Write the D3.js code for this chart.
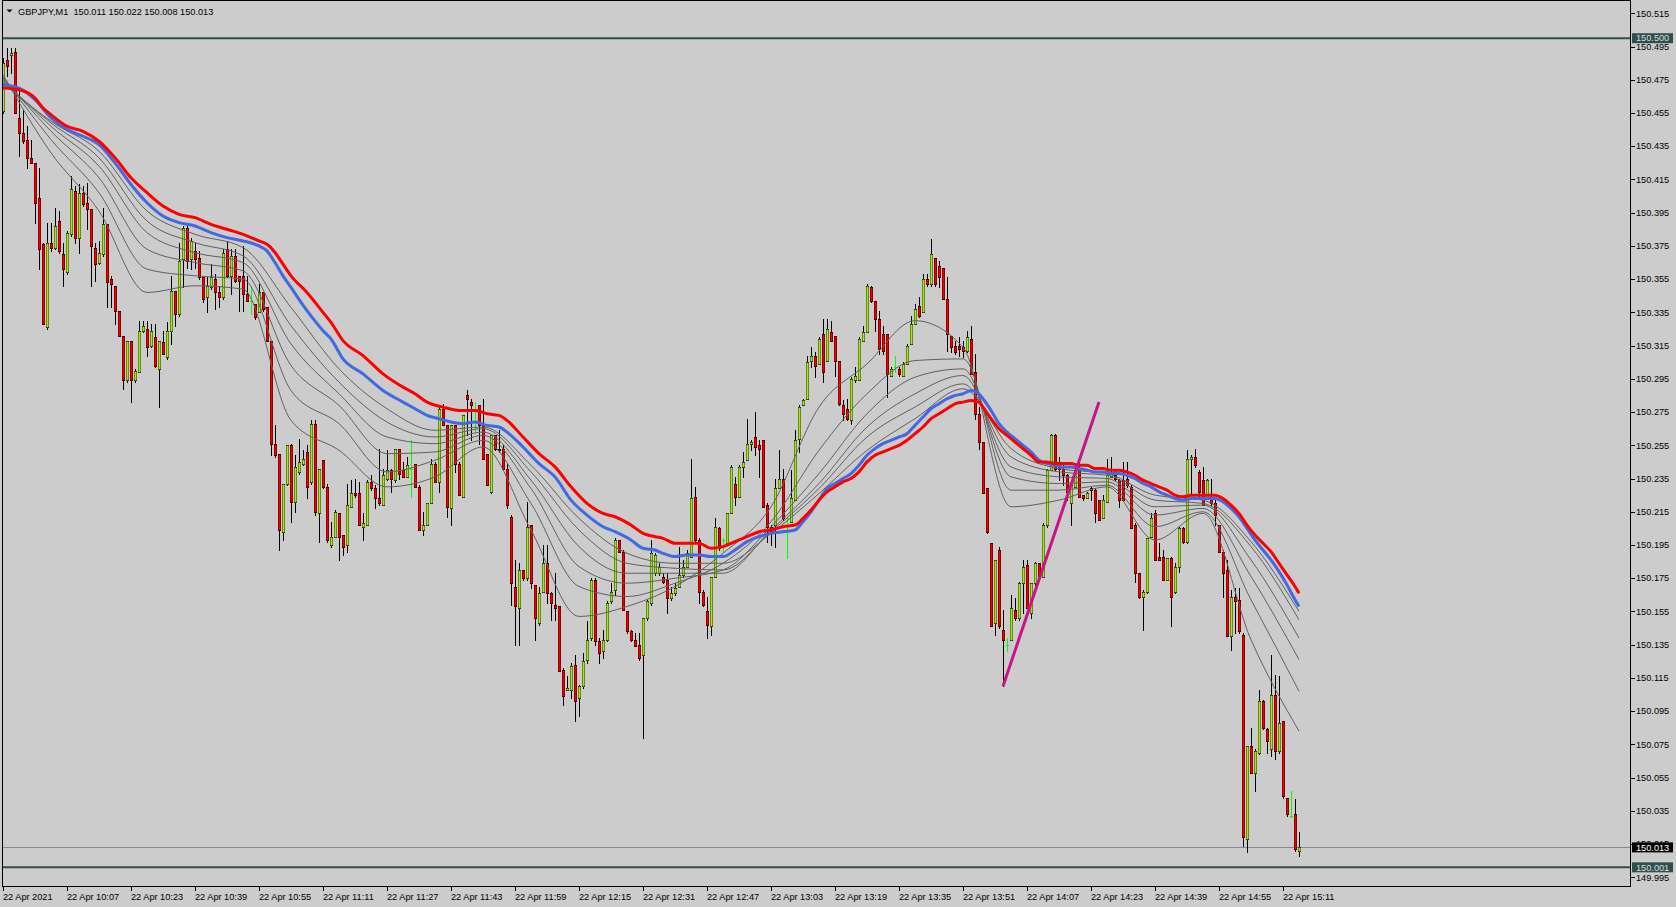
<!DOCTYPE html>
<html><head><meta charset="utf-8">
<script src="https://cdn.jsdelivr.net/npm/d3@7"></script>
<style>
html,body{margin:0;padding:0;background:#cccccc;overflow:hidden;}
svg{display:block;font-family:"Liberation Sans",Arial,sans-serif;}
</style></head><body>
<svg id="c" width="1676" height="907"></svg>
<script>
// ---------------- DATA ----------------
const symbol = "GBPJPY,M1";
const lastQuote = [150.011, 150.022, 150.008, 150.013];
const startTime = new Date(2021, 3, 22, 9, 51);

const open = [150.456,150.487,150.490,150.492,150.452,150.443,150.439,150.428,150.425,150.404,
150.376,150.326,150.377,150.374,150.390,150.370,150.359,150.382,150.408,150.380,
150.407,150.401,150.397,150.374,150.365,150.370,150.388,150.355,150.351,150.336,
150.321,150.294,150.318,150.294,150.299,150.324,150.325,150.315,150.320,150.301,
150.317,150.308,150.324,150.348,150.334,150.367,150.386,150.367,150.372,150.368,
150.356,150.344,150.350,150.355,150.347,150.344,150.373,150.357,150.369,150.357,
150.357,150.346,150.342,150.340,150.335,150.347,150.338,150.318,150.256,150.250,
150.203,150.232,150.255,150.221,150.239,150.244,150.251,150.233,150.268,150.214,
150.246,150.230,150.195,150.200,150.214,150.201,150.195,150.218,150.226,150.226,
150.206,150.207,150.233,150.229,150.223,150.219,150.235,150.240,150.234,150.253,
150.240,150.236,150.241,150.244,150.230,150.204,150.207,150.220,150.244,150.233,
150.277,150.267,150.217,150.267,150.244,150.224,150.285,150.281,150.277,150.279,
150.267,150.250,150.227,150.261,150.253,150.253,150.241,150.212,150.170,150.157,
150.180,150.175,150.207,150.171,150.148,150.167,150.184,150.166,150.159,150.158,
150.120,150.108,150.108,150.123,150.103,150.110,150.126,150.139,150.174,150.137,
150.131,150.138,150.161,150.168,150.198,150.191,150.155,150.143,150.138,150.135,
150.129,150.151,150.160,150.178,150.178,150.176,150.174,150.163,150.166,150.170,
150.177,150.182,150.188,150.224,150.198,150.167,150.155,150.146,150.176,150.205,
150.198,150.196,150.214,150.232,150.224,150.242,150.246,150.256,150.260,150.255,
150.258,150.219,150.206,150.207,150.229,150.235,150.211,150.209,150.222,150.259,
150.279,150.283,150.306,150.309,150.304,150.322,150.306,150.323,150.321,150.306,
150.279,150.277,150.270,150.294,150.294,150.318,150.323,150.350,150.342,150.331,
150.322,150.322,150.297,150.302,150.301,150.297,150.304,150.316,150.328,150.339,
150.335,150.355,150.352,150.368,150.363,150.362,150.343,150.321,150.315,150.315,
150.314,150.312,150.319,150.299,150.274,150.257,150.229,150.196,150.148,150.192,
150.144,150.135,150.138,150.156,150.151,150.172,150.183,150.154,150.172,150.184,
150.176,150.207,150.240,150.261,150.243,150.241,150.237,150.220,150.230,150.241,
150.225,150.223,150.229,150.228,150.222,150.211,150.221,150.236,150.237,150.234,
150.234,150.235,150.230,150.207,150.178,150.164,150.167,150.200,150.214,150.188,
150.188,150.174,150.187,150.167,150.182,150.205,150.197,150.247,150.248,150.239,
150.234,150.224,150.224,150.220,150.207,150.191,150.180,150.140,150.164,150.162,
150.141,150.018,150.074,150.058,150.070,150.101,150.084,150.072,150.105,150.071,
150.089,150.043,150.032,150.033,150.011];

const high = [150.488,150.494,150.494,150.494,150.468,150.457,150.447,150.439,150.425,150.422,
150.377,150.389,150.389,150.398,150.396,150.377,150.384,150.417,150.411,150.412,
150.411,150.413,150.397,150.377,150.378,150.398,150.388,150.357,150.351,150.336,
150.321,150.318,150.318,150.301,150.330,150.330,150.330,150.328,150.328,150.318,
150.324,150.329,150.357,150.348,150.377,150.387,150.387,150.380,150.377,150.372,
150.356,150.356,150.364,150.358,150.351,150.373,150.378,150.373,150.373,150.357,
150.375,150.357,150.350,150.340,150.352,150.347,150.338,150.318,150.267,150.250,
150.232,150.255,150.256,150.249,150.259,150.252,150.255,150.270,150.270,150.241,
150.246,150.232,150.209,150.216,150.214,150.201,150.232,150.234,150.235,150.233,
150.214,150.234,150.237,150.231,150.253,150.241,150.252,150.241,150.253,150.253,
150.245,150.248,150.258,150.244,150.231,150.215,150.220,150.247,150.245,150.278,
150.280,150.267,150.267,150.267,150.245,150.273,150.288,150.283,150.281,150.279,
150.283,150.250,150.261,150.261,150.264,150.255,150.244,150.213,150.186,150.184,
150.180,150.221,150.207,150.171,150.170,150.195,150.195,150.167,150.178,150.158,
150.121,150.116,150.124,150.129,150.111,150.130,150.149,150.175,150.175,150.139,
150.144,150.161,150.172,150.199,150.198,150.192,150.155,150.144,150.142,150.142,
150.151,150.162,150.198,150.190,150.184,150.178,150.178,150.170,150.172,150.194,
150.186,150.192,150.247,150.230,150.199,150.168,150.164,150.176,150.211,150.206,
150.199,150.214,150.243,150.236,150.243,150.251,150.271,150.258,150.275,150.258,
150.258,150.220,150.207,150.235,150.252,150.241,150.212,150.240,150.264,150.279,
150.283,150.309,150.314,150.311,150.320,150.331,150.331,150.330,150.321,150.306,
150.282,150.283,150.296,150.302,150.320,150.327,150.352,150.351,150.342,150.336,
150.327,150.322,150.302,150.309,150.302,150.305,150.316,150.333,150.340,150.344,
150.358,150.358,150.379,150.368,150.366,150.362,150.356,150.321,150.318,150.320,
150.318,150.324,150.327,150.310,150.278,150.257,150.229,150.196,150.186,150.194,
150.156,150.139,150.165,150.163,150.173,150.186,150.186,150.172,150.185,150.184,
150.208,150.241,150.262,150.262,150.248,150.243,150.238,150.233,150.242,150.247,
150.225,150.227,150.230,150.229,150.222,150.225,150.247,150.248,150.240,150.235,
150.245,150.245,150.231,150.208,150.178,150.168,150.199,150.214,150.216,150.196,
150.192,150.187,150.188,150.184,150.206,150.206,150.252,150.249,150.253,150.240,
150.242,150.235,150.235,150.222,150.207,150.192,150.186,150.168,150.169,150.169,
150.142,150.074,150.085,150.072,150.108,150.102,150.085,150.129,150.117,150.116,
150.089,150.043,150.047,150.042,150.022];

const low = [150.455,150.477,150.479,150.455,150.429,150.437,150.422,150.425,150.389,150.361,
150.328,150.325,150.372,150.373,150.371,150.351,150.358,150.381,150.377,150.371,
150.399,150.385,150.351,150.354,150.364,150.369,150.338,150.338,150.328,150.321,
150.289,150.293,150.281,150.293,150.299,150.323,150.309,150.314,150.302,150.278,
150.310,150.307,150.316,150.327,150.333,150.350,150.362,150.361,150.362,150.355,
150.341,150.335,150.349,150.337,150.338,150.343,150.356,150.346,150.353,150.336,
150.336,150.342,150.334,150.331,150.335,150.336,150.318,150.249,150.248,150.192,
150.198,150.231,150.209,150.215,150.238,150.243,150.223,150.232,150.213,150.197,
150.229,150.197,150.194,150.200,150.186,150.189,150.191,150.218,150.224,150.207,
150.198,150.207,150.228,150.217,150.219,150.219,150.234,150.227,150.233,150.235,
150.236,150.236,150.224,150.230,150.204,150.201,150.207,150.220,150.233,150.227,
150.267,150.212,150.207,150.239,150.225,150.224,150.261,150.258,150.263,150.256,
150.247,150.231,150.226,150.252,150.251,150.241,150.217,150.159,150.135,150.135,
150.174,150.174,150.169,150.138,150.147,150.167,150.160,150.150,150.150,150.119,
150.099,150.108,150.103,150.089,150.092,150.109,150.124,150.138,150.135,150.124,
150.127,150.137,150.160,150.165,150.191,150.156,150.142,150.137,150.134,150.126,
150.079,150.150,150.159,150.177,150.177,150.172,150.154,150.162,150.165,150.170,
150.176,150.182,150.188,150.197,150.160,150.158,150.139,150.141,150.176,150.192,
150.191,150.196,150.214,150.219,150.224,150.236,150.246,150.252,150.249,150.236,
150.218,150.197,150.195,150.194,150.229,150.210,150.187,150.209,150.222,150.251,
150.279,150.283,150.302,150.296,150.304,150.293,150.306,150.318,150.297,150.279,
150.270,150.270,150.268,150.293,150.294,150.318,150.323,150.341,150.324,150.310,
150.310,150.284,150.297,150.299,150.297,150.297,150.304,150.316,150.328,150.332,
150.335,150.351,150.351,150.351,150.350,150.343,150.312,150.311,150.310,150.309,
150.308,150.311,150.298,150.271,150.253,150.226,150.202,150.146,150.141,150.145,
150.110,150.131,150.138,150.150,150.150,150.154,150.157,150.151,150.171,150.175,
150.176,150.206,150.240,150.240,150.234,150.231,150.222,150.207,150.230,150.224,
150.222,150.223,150.222,150.209,150.210,150.211,150.221,150.236,150.234,150.218,
150.222,150.230,150.205,150.173,150.163,150.144,150.166,150.200,150.186,150.186,
150.174,150.174,150.146,150.166,150.179,150.196,150.196,150.225,150.242,150.224,
150.219,150.224,150.219,150.207,150.191,150.164,150.140,150.132,150.142,150.142,
150.014,150.010,150.058,150.047,150.069,150.084,150.070,150.068,150.066,150.070,
150.043,150.032,150.031,150.011,150.008];

const close = [150.485,150.483,150.491,150.455,150.443,150.438,150.428,150.425,150.401,150.373,
150.328,150.377,150.374,150.387,150.372,150.361,150.383,150.409,150.380,150.407,
150.400,150.397,150.375,150.364,150.371,150.388,150.353,150.352,150.336,150.321,
150.294,150.318,150.294,150.300,150.324,150.327,150.314,150.324,150.303,150.318,
150.310,150.324,150.348,150.334,150.366,150.386,150.366,150.378,150.367,150.356,
150.343,150.351,150.356,150.347,150.344,150.371,150.357,150.369,150.354,150.354,
150.346,150.342,150.342,150.332,150.347,150.337,150.318,150.256,150.249,150.204,
150.232,150.255,150.221,150.242,150.245,150.247,150.230,150.268,150.215,150.241,
150.230,150.198,150.200,150.215,150.200,150.194,150.219,150.226,150.225,150.207,
150.208,150.233,150.229,150.223,150.220,150.237,150.240,150.235,150.253,150.238,
150.236,150.243,150.241,150.230,150.204,150.207,150.220,150.244,150.233,150.277,
150.267,150.218,150.267,150.244,150.225,150.273,150.283,150.279,150.277,150.267,
150.247,150.231,150.261,150.253,150.252,150.241,150.219,150.172,150.158,150.180,
150.175,150.206,150.172,150.151,150.166,150.184,150.166,150.160,150.157,150.119,
150.104,150.109,150.122,150.101,150.110,150.125,150.138,150.174,150.137,150.130,
150.138,150.160,150.167,150.198,150.191,150.156,150.143,150.138,150.134,150.127,
150.151,150.161,150.190,150.189,150.182,150.173,150.163,150.166,150.169,150.177,
150.182,150.190,150.223,150.198,150.167,150.159,150.147,150.176,150.206,150.193,
150.198,150.214,150.242,150.224,150.242,150.245,150.256,150.257,150.254,150.253,
150.218,150.206,150.203,150.229,150.235,150.211,150.211,150.223,150.258,150.278,
150.282,150.305,150.309,150.303,150.319,150.299,150.325,150.318,150.306,150.280,
150.274,150.271,150.295,150.297,150.319,150.323,150.351,150.342,150.331,150.313,
150.312,150.298,150.301,150.302,150.298,150.304,150.315,150.328,150.337,150.333,
150.355,150.352,150.370,150.352,150.356,150.343,150.322,150.314,150.311,150.313,
150.312,150.320,150.298,150.274,150.257,150.226,150.203,150.146,150.186,150.146,
150.138,150.135,150.157,150.151,150.172,150.182,150.157,150.172,150.184,150.175,
150.207,150.240,150.261,150.241,150.241,150.237,150.227,150.231,150.240,150.224,
150.223,150.226,150.228,150.214,150.210,150.222,150.237,150.238,150.235,150.222,
150.222,150.231,150.205,150.178,150.164,150.167,150.199,150.211,150.186,150.186,
150.174,150.187,150.164,150.182,150.205,150.197,150.247,150.248,150.243,150.227,
150.219,150.234,150.220,150.213,150.191,150.178,150.140,150.164,150.161,150.143,
150.019,150.074,150.058,150.071,150.101,150.085,150.077,150.105,150.071,150.088,
150.044,150.033,150.032,150.012,150.013];

// thick moving averages (read at sample bars)
const redBars = [0,4,8,10,12,16,20,24,28,32,36,40,44,48,52,56,60,64,66,68,70,72,76,80,82,85,90,95,100,103,106,110,114,118,121,124,126,130,134,138,142,146,150,153,157,160,163,165,168,171,174,177,180,183,186,189,192,195,198,200,202,204,206,208,210,212,214,216,218,220,222,224,226,228,230,232,234,236,238,240,242,244,245,247,249,251,253,255,257,259,261,263,265,267,269,271,273,275,277,279,281,283,285,287,289,291,293,295,297,299,301,303,305,307,309,311,313,315,317,319,321,323,324];
const redVals = [150.470,150.469,150.464,150.458,150.454,150.447,150.444,150.438,150.428,150.416,150.407,150.399,150.394,150.392,150.388,150.385,150.382,150.378,150.376,150.371,150.364,150.357,150.347,150.335,150.329,150.318,150.309,150.298,150.290,150.286,150.281,150.278,150.276,150.276,150.274,150.273,150.270,150.260,150.250,150.242,150.230,150.220,150.214,150.212,150.207,150.202,150.200,150.199,150.196,150.196,150.196,150.193,150.194,150.197,150.200,150.203,150.204,150.206,150.207,150.211,150.216,150.222,150.227,150.230,150.233,150.235,150.239,150.245,150.249,150.251,150.253,150.255,150.258,150.262,150.266,150.271,150.274,150.277,150.280,150.281,150.282,150.281,150.278,150.271,150.265,150.261,150.257,150.253,150.249,150.245,150.245,150.244,150.244,150.244,150.243,150.243,150.241,150.241,150.240,150.240,150.239,150.237,150.234,150.232,150.230,150.228,150.225,150.224,150.225,150.225,150.225,150.225,150.223,150.219,150.214,150.207,150.201,150.196,150.191,150.184,150.177,150.170,150.166];
const blueBars = [0,4,8,12,16,20,24,28,32,36,40,44,48,52,56,60,64,66,68,70,72,76,80,82,85,90,95,100,103,106,109,112,115,118,121,124,126,130,134,138,142,146,150,153,157,160,163,165,168,171,174,177,180,183,186,189,192,195,198,200,202,204,206,208,210,212,214,216,218,220,222,224,226,228,230,232,234,236,238,240,242,244,245,247,249,251,253,255,257,259,261,263,265,267,269,271,273,275,277,279,281,283,285,287,289,291,293,295,297,299,301,303,305,307,309,311,313,315,317,319,321,323,324];
const blueVals = [150.472,150.470,150.463,150.452,150.445,150.441,150.436,150.425,150.412,150.401,150.393,150.389,150.387,150.383,150.380,150.378,150.375,150.372,150.365,150.357,150.350,150.336,150.324,150.319,150.307,150.298,150.288,150.281,150.277,150.273,150.271,150.269,150.268,150.269,150.267,150.266,150.263,150.254,150.244,150.236,150.222,150.213,150.206,150.203,150.198,150.193,150.192,150.190,150.188,150.189,150.189,150.188,150.188,150.192,150.197,150.200,150.202,150.203,150.204,150.209,150.215,150.222,150.229,150.232,150.235,150.238,150.243,150.249,150.253,150.256,150.258,150.260,150.262,150.267,150.272,150.277,150.280,150.283,150.285,150.286,150.288,150.286,150.283,150.276,150.268,150.263,150.259,150.255,150.251,150.246,150.244,150.243,150.242,150.242,150.241,150.240,150.239,150.239,150.238,150.238,150.237,150.235,150.232,150.230,150.227,150.225,150.223,150.222,150.223,150.223,150.223,150.223,150.221,150.217,150.212,150.205,150.198,150.192,150.186,150.179,150.171,150.162,150.158];

// thin moving averages, read every 12 bars (fastest first)
const thinBars = [0,12,24,36,48,60,72,84,96,108,120,132,144,156,168,180,192,204,216,228,240,252,264,276,288,300,312,324];
const thin1 = [150.478,150.431,150.396,150.347,150.351,150.349,150.270,150.252,150.230,150.236,150.254,150.204,150.152,150.158,150.170,150.190,150.218,150.278,150.304,150.330,150.314,150.218,150.222,150.230,150.198,150.214,150.138,150.083];
const thin2 = [150.477,150.439,150.407,150.361,150.357,150.355,150.288,150.268,150.239,150.246,150.258,150.220,150.170,150.164,150.172,150.184,150.209,150.252,150.286,150.306,150.307,150.228,150.228,150.231,150.206,150.215,150.162,150.107];
const thin3 = [150.476,150.444,150.416,150.373,150.365,150.360,150.303,150.279,150.250,150.251,150.261,150.229,150.182,150.172,150.175,150.180,150.206,150.238,150.274,150.296,150.301,150.236,150.232,150.233,150.213,150.217,150.176,150.126];
const thin4 = [150.475,150.447,150.423,150.383,150.371,150.365,150.316,150.286,150.260,150.256,150.263,150.234,150.194,150.178,150.178,150.178,150.204,150.232,150.266,150.286,150.297,150.242,150.236,150.235,150.218,150.219,150.186,150.139];
const thin5 = [150.474,150.449,150.428,150.390,150.377,150.369,150.327,150.293,150.269,150.260,150.265,150.239,150.204,150.184,150.181,150.180,150.203,150.229,150.260,150.278,150.292,150.248,150.239,150.237,150.222,150.220,150.194,150.150];
const thin6 = [150.473,150.450,150.432,150.396,150.382,150.374,150.338,150.301,150.277,150.264,150.266,150.243,150.211,150.190,150.184,150.184,150.202,150.226,150.252,150.271,150.289,150.253,150.241,150.238,150.225,150.222,150.197,150.155];

// horizontal levels and trend line
const levelPrices = [150.500, 150.001];
const levelLabels = ["150.500", "150.001"];
const bidPrice = 150.013;
const trendBars = [250, 274];
const trendPrices = [150.110, 150.281];

// axis ticks
const priceTicks = [150.515,150.495,150.475,150.455,150.435,150.415,150.395,150.375,150.355,150.335,150.315,150.295,150.275,150.255,150.235,150.215,150.195,150.175,150.155,150.135,150.115,150.095,150.075,150.055,150.035,150.015,149.995];
const timeTickLabels = ["22 Apr 2021","22 Apr 10:07","22 Apr 10:23","22 Apr 10:39","22 Apr 10:55","22 Apr 11:11","22 Apr 11:27","22 Apr 11:43","22 Apr 11:59","22 Apr 12:15","22 Apr 12:31","22 Apr 12:47","22 Apr 13:03","22 Apr 13:19","22 Apr 13:35","22 Apr 13:51","22 Apr 14:07","22 Apr 14:23","22 Apr 14:39","22 Apr 14:55","22 Apr 15:11"];
const timeTickBars = [0,16,32,48,64,80,96,112,128,144,160,176,192,208,224,240,256,272,288,304,320];

// ---------------- DRAW ----------------
const N = close.length;
const times = d3.range(N).map(i => d3.timeMinute.offset(startTime, i));
const svg = d3.select("#c");
const P = {l: 2, t: 0, r: 1630, b: 886};
const x = d3.scaleLinear().domain([0, N - 1]).range([3, 3 + 4 * (N - 1)]);
const y = d3.scaleLinear().domain([149.995, 150.515]).range([877.3, 13.3]);
const FONT = 9.2;
const BULL = "#a6e61e", BEAR = "#f00000", DOJI = "#00ff00";

svg.append("rect").attr("width", 1676).attr("height", 907).attr("fill", "#cccccc");
svg.append("clipPath").attr("id", "clip").append("rect")
  .attr("x", P.l + 1).attr("y", P.t + 1).attr("width", P.r - P.l - 1).attr("height", P.b - P.t - 1);
const plot = svg.append("g").attr("clip-path", "url(#clip)");

// levels
plot.selectAll(".lvl").data(levelPrices).join("line")
  .attr("x1", P.l).attr("x2", P.r).attr("y1", d => y(d)).attr("y2", d => y(d))
  .attr("stroke", "#2f4f4f").attr("stroke-width", 2);
plot.append("line").attr("x1", P.l).attr("x2", P.r)
  .attr("y1", Math.round(y(bidPrice)) + 0.5).attr("y2", Math.round(y(bidPrice)) + 0.5)
  .attr("stroke", "#7f8c95").attr("stroke-width", 1);

// candles
const cg = plot.append("g");
const bars = d3.range(N);
const px = i => Math.round(x(i));
const py = v => Math.round(y(v));
cg.selectAll(".wick").data(bars).join("rect")
  .attr("x", i => px(i)).attr("width", 1)
  .attr("y", i => py(high[i])).attr("height", i => py(low[i]) - py(high[i]) + 1)
  .attr("fill", i => open[i] === close[i] ? DOJI : "#000");
const bodies = bars.filter(i => open[i] !== close[i]);
const bTop = i => py(Math.max(open[i], close[i]));
const bH = i => Math.max(2, py(Math.min(open[i], close[i])) - bTop(i) + 1);
cg.selectAll(".body").data(bodies).join("rect")
  .attr("x", i => px(i) - 1).attr("width", 3)
  .attr("y", bTop).attr("height", bH)
  .attr("fill", "#000");
cg.selectAll(".fill").data(bodies).join("rect")
  .attr("x", i => px(i) - 0.6).attr("width", 2.2)
  .attr("y", i => bTop(i) + 0.6).attr("height", i => Math.max(0.8, bH(i) - 1.2))
  .attr("fill", i => close[i] > open[i] ? BULL : BEAR);
const dojis = bars.filter(i => open[i] === close[i]);
cg.selectAll(".doji").data(dojis).join("rect")
  .attr("x", i => px(i) - 1).attr("width", 3)
  .attr("y", i => py(open[i])).attr("height", 1)
  .attr("fill", DOJI);

// moving averages
const lineGen = d3.line().x(d => x(d[0])).y(d => y(d[1])).curve(d3.curveMonotoneX);
const thinSets = [thin6, thin5, thin4, thin3, thin2, thin1];
thinSets.forEach(vals => {
  plot.append("path").datum(thinBars.map((b, k) => [b, vals[k]]))
    .attr("d", lineGen).attr("fill", "none").attr("stroke", "#616161").attr("stroke-width", 1);
});
plot.append("path").datum(blueBars.map((b, k) => [b, blueVals[k]]))
  .attr("d", lineGen).attr("fill", "none").attr("stroke", "#4169e1").attr("stroke-width", 3);
plot.append("path").datum(redBars.map((b, k) => [b, redVals[k]]))
  .attr("d", lineGen).attr("fill", "none").attr("stroke", "#ff0000").attr("stroke-width", 3);

// trend line
plot.append("line")
  .attr("x1", x(trendBars[0])).attr("y1", y(trendPrices[0]))
  .attr("x2", x(trendBars[1])).attr("y2", y(trendPrices[1]))
  .attr("stroke", "#c71585").attr("stroke-width", 3);

// frame
const fr = svg.append("g").attr("shape-rendering", "crispEdges");
fr.append("line").attr("x1", P.l + 0.5).attr("x2", P.l + 0.5).attr("y1", 0).attr("y2", P.b + 1).attr("stroke", "#000");
fr.append("line").attr("x1", P.r + 0.5).attr("x2", P.r + 0.5).attr("y1", 0).attr("y2", P.b + 1).attr("stroke", "#000");
fr.append("line").attr("x1", P.l).attr("x2", P.r + 1).attr("y1", P.b + 0.5).attr("y2", P.b + 0.5).attr("stroke", "#000");
fr.append("line").attr("x1", P.l).attr("x2", P.r + 1).attr("y1", 0.5).attr("y2", 0.5).attr("stroke", "#000");

// price axis
const ax = svg.append("g");
ax.selectAll(".pt").data(priceTicks).join("line")
  .attr("x1", P.r + 1).attr("x2", P.r + 5)
  .attr("y1", d => Math.round(y(d)) + 0.5).attr("y2", d => Math.round(y(d)) + 0.5)
  .attr("stroke", "#000").attr("shape-rendering", "crispEdges");
ax.selectAll(".pl").data(priceTicks).join("text")
  .attr("x", 1636).attr("y", d => y(d)).attr("dy", "0.35em")
  .attr("font-size", FONT).attr("fill", "#000").text(d => d3.format(".3f")(d));

// level labels
levelPrices.forEach((v, k) => {
  ax.append("rect").attr("x", 1632).attr("y", y(v) - 5).attr("width", 41).attr("height", 10).attr("fill", "#2f4f4f");
  ax.append("text").attr("x", 1636).attr("y", y(v)).attr("dy", "0.35em").attr("font-size", FONT)
    .attr("fill", "#dcdcdc").text(levelLabels[k]);
});
ax.append("rect").attr("x", 1632).attr("y", y(bidPrice) - 5).attr("width", 41).attr("height", 10).attr("fill", "#000");
ax.append("text").attr("x", 1636).attr("y", y(bidPrice)).attr("dy", "0.35em").attr("font-size", FONT)
  .attr("fill", "#fff").text(d3.format(".3f")(bidPrice));

// time axis
const tx = svg.append("g");
tx.selectAll(".tt").data(timeTickBars).join("line")
  .attr("x1", i => px(i) + 0.5).attr("x2", i => px(i) + 0.5)
  .attr("y1", P.b + 1).attr("y2", P.b + 5).attr("stroke", "#000").attr("shape-rendering", "crispEdges");
tx.selectAll(".tl").data(timeTickBars).join("text")
  .attr("x", i => px(i)).attr("y", 900).attr("font-size", FONT).attr("fill", "#000")
  .text((i, k) => timeTickLabels[k]);

// title
svg.append("path").attr("d", "M6.5,9.5 L12.5,9.5 L9.5,12.5 Z").attr("fill", "#000");
svg.append("text").attr("x", 18).attr("y", 14.5).attr("font-size", FONT).attr("fill", "#000")
  .attr("xml:space", "preserve").style("white-space", "pre")
  .text(symbol + "  " + lastQuote.map(d3.format(".3f")).join(" "));
</script>
</body></html>
